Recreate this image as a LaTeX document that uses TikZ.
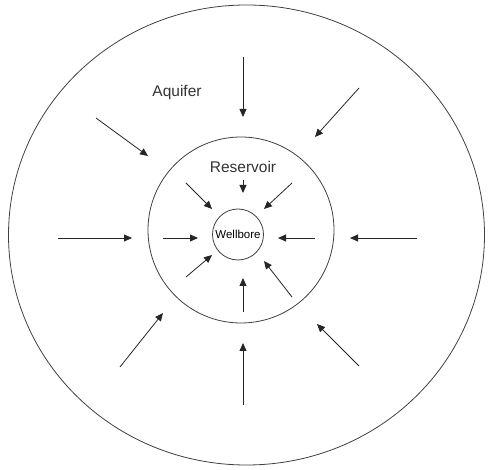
\documentclass[tikz,border=0pt]{standalone}
\usepackage{fontspec}
\setmainfont{Liberation Sans}
\usetikzlibrary{arrows.meta}
\tikzset{
    freccia/.style={-{Triangle[length=8pt,width=7pt]}, line width=0.8pt, black!85},
    bordo/.style={draw=black!75, line width=0.8pt}
}

\begin{document}
\begin{tikzpicture}[x=1pt, y=-1pt]
    \useasboundingbox (0,0) rectangle (488,470);
    %disegno cerchi
        \draw[bordo] (246.5,235) ellipse [x radius=238, y radius=230];
        \draw[bordo] (241,230) circle [radius=93];
        \node[circle, bordo, minimum size=51pt, inner sep=0pt, font=\fontsize{11.5}{13}\selectfont] (wellbore) at (238,234.5) {Wellbore};
    %label
        \node[font=\fontsize{15.5}{18}\selectfont, black!80] (aquifer) at (177,92) {Aquifer};
        \node[font=\fontsize{15.5}{18}\selectfont, black!80] (reservoir) at (243,167) {Reservoir};
    %frecce esterne (acquifero)
        \draw[freccia] (58,238) -- (132,238);
        \draw[freccia] (417,238) -- (350,238);
        \draw[freccia] (243,57) -- (243,117);
        \draw[freccia] (243,405) -- (243,343);
        \draw[freccia] (96,118) -- (148,156);
        \draw[freccia] (359,88) -- (315,137);
        \draw[freccia] (120,367) -- (163,313);
        \draw[freccia] (359,366) -- (317,324);
    %frecce interne (giacimento)
        \draw[freccia] (243,180) -- (243,193);
        \draw[freccia] (186,183) -- (212,209);
        \draw[freccia] (292,183) -- (264,209);
        \draw[freccia] (163,238) -- (198,238);
        \draw[freccia] (315,238) -- (278,238);
        \draw[freccia] (186,277) -- (212,255);
        \draw[freccia] (243,312) -- (243,278);
        \draw[freccia] (292,297) -- (264,261);
\end{tikzpicture}
\end{document}
